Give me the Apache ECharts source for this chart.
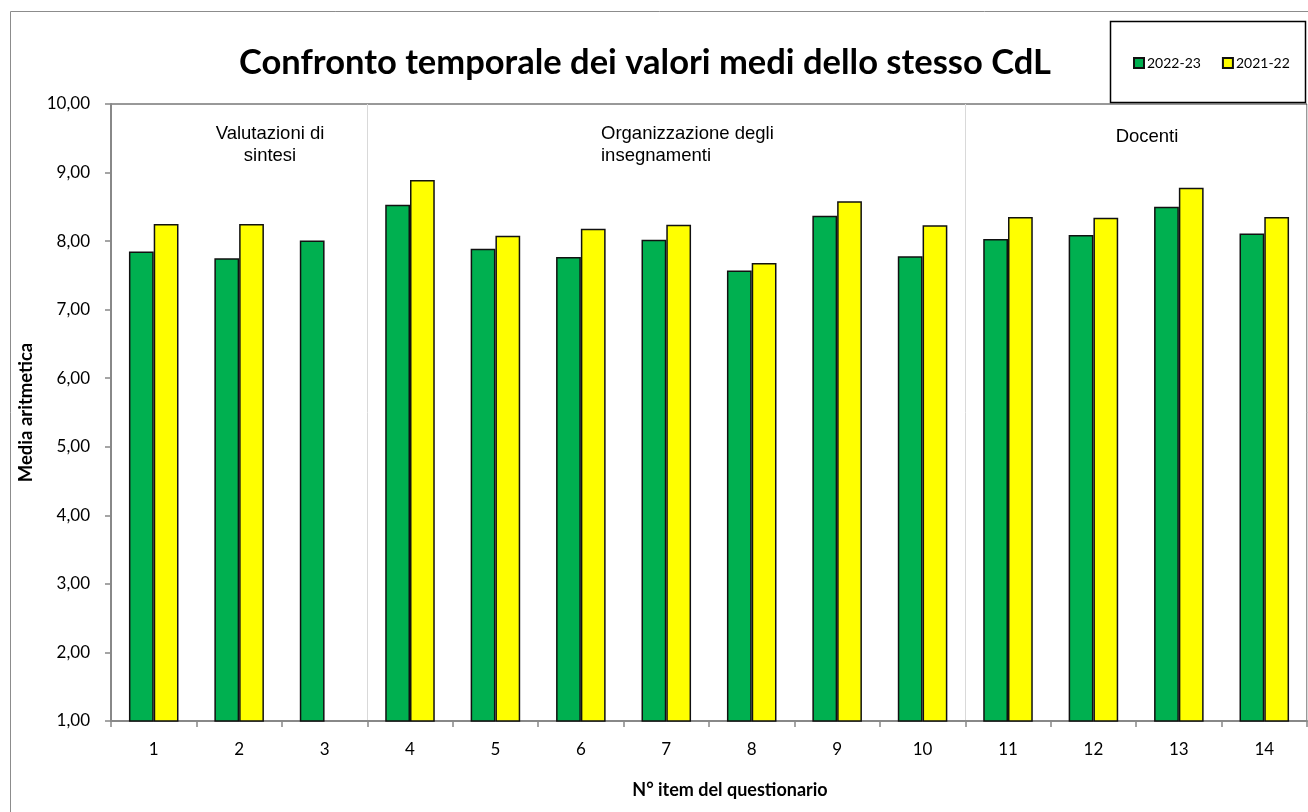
<!DOCTYPE html>
<html>
<head>
<meta charset="utf-8">
<script src="https://cdn.jsdelivr.net/npm/echarts@6/dist/echarts.min.js"></script>
<style>
  html, body { margin: 0; padding: 0; background: #fff; }
  #chart { width: 1308px; height: 812px; }
</style>
</head>
<body>
<div id="chart"></div>
<script>
// item del questionario
const categories = ['1', '2', '3', '4', '5', '6', '7', '8', '9', '10', '11', '12', '13', '14']
const values2223 = [7.85, 7.75, 8.01, 8.53, 7.89, 7.77, 8.02, 7.57, 8.37, 7.78, 8.03, 8.09, 8.50, 8.11]
const values2122 = [8.25, 8.25, null, 8.89, 8.08, 8.18, 8.24, 7.68, 8.58, 8.23, 8.35, 8.34, 8.78, 8.35]
const seriesNames = ['2022-23', '2021-22']
// indici delle categorie dove inizia un nuovo gruppo
const sectionStarts = [3, 10]

const chart = echarts.init(document.getElementById('chart'))

const labelFont = 'Lato, "Open Sans", sans-serif'
const sectionFont = '"Liberation Sans", Arial, sans-serif'

chart.setOption({
  animation: false,
  textStyle: { fontFamily: labelFont },
  title: {
    text: 'Confronto temporale dei valori medi dello stesso CdL',
    left: 640,
    textAlign: 'center',
    top: 40,
    textStyle: { fontFamily: labelFont, fontSize: 34.5, fontWeight: 'bold', color: '#000' }
  },
  legend: {
    data: seriesNames,
    left: 1128,
    top: 51,
    itemWidth: 10,
    itemHeight: 10,
    itemGap: 21,
    icon: 'rect',
    textStyle: { fontFamily: labelFont, fontSize: 14, color: '#000', padding: [0, 0, 0, -2] }
  },
  graphic: [
    {
      type: 'rect',
      shape: { x: 10.5, y: 11.5, width: 1320, height: 820 },
      style: { fill: null, stroke: '#8c8c8c', lineWidth: 1 },
      z: -1
    },
    {
      type: 'rect',
      shape: { x: 1110.5, y: 21.5, width: 195, height: 81 },
      style: { fill: null, stroke: '#000', lineWidth: 1.5 }
    },
    {
      type: 'text',
      x: 270, y: 123,
      style: { text: 'Valutazioni di\nsintesi', align: 'center', font: '18.5px ' + sectionFont, lineHeight: 22, fill: '#000' }
    },
    {
      type: 'text',
      x: 601, y: 123,
      style: { text: 'Organizzazione degli\ninsegnamenti', align: 'left', font: '18.5px ' + sectionFont, lineHeight: 22, fill: '#000' }
    },
    {
      type: 'text',
      x: 1147, y: 126,
      style: { text: 'Docenti', align: 'center', font: '18.5px ' + sectionFont, lineHeight: 22, fill: '#000' }
    }
  ],
  grid: {
    left: 111,
    right: 1,
    top: 104,
    bottom: 91,
    show: true,
    borderColor: '#333',
    borderWidth: 1
  },
  xAxis: {
    type: 'category',
    data: categories,
    name: 'N° item del questionario',
    nameLocation: 'middle',
    nameGap: 60,
    nameTextStyle: { fontFamily: labelFont, fontSize: 18, fontWeight: 'bold', color: '#000', padding: [0, 0, 0, 42] },
    axisLine: { lineStyle: { color: '#888', width: 2 } },
    axisTick: { show: true, length: 6, lineStyle: { color: '#888', width: 1.5 } },
    axisLabel: { fontFamily: labelFont, fontSize: 17, color: '#000', margin: 20 },
    splitLine: {
      show: true,
      interval: (i) => sectionStarts.includes(i),
      lineStyle: { color: '#d9d9d9', width: 1 }
    }
  },
  yAxis: {
    type: 'value',
    min: 1,
    max: 10,
    interval: 1,
    name: 'Media aritmetica',
    nameLocation: 'middle',
    nameRotate: 90,
    nameGap: 69,
    nameTextStyle: { fontFamily: labelFont, fontSize: 18.5, fontWeight: 'bold', color: '#000' },
    axisLine: { show: true, lineStyle: { color: '#888', width: 2 } },
    axisTick: { show: true, length: 6, lineStyle: { color: '#888', width: 1.5 } },
    axisLabel: {
      fontFamily: labelFont,
      fontSize: 17,
      color: '#000',
      margin: 21,
      formatter: (v) => v.toFixed(2).replace('.', ',')
    },
    splitLine: { show: false }
  },
  series: [
    {
      name: seriesNames[0],
      type: 'bar',
      data: values2223,
      barGap: '0%',
      barCategoryGap: '42%',
      itemStyle: { color: '#00b050', borderColor: '#111', borderWidth: 1.5 }
    },
    {
      name: seriesNames[1],
      type: 'bar',
      data: values2122,
      barGap: '0%',
      barCategoryGap: '42%',
      itemStyle: { color: '#ffff00', borderColor: '#111', borderWidth: 1.5 }
    }
  ]
})
</script>
</body>
</html>
